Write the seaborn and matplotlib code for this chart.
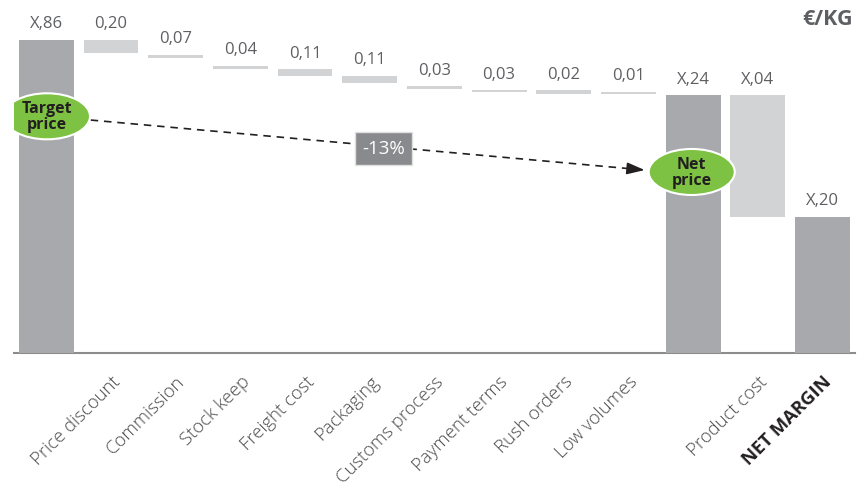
import matplotlib
matplotlib.use("Agg")
import matplotlib.pyplot as plt
import seaborn as sns
import pandas as pd
from matplotlib.patches import Ellipse

# ---- data (schematic scale, €/kg) ----
categories = ["Target price", "Price discount", "Commission", "Stock keep", "Freight cost",
              "Packaging", "Customs process", "Payment terms", "Rush orders", "Low volumes",
              "Net price", "Product cost", "NET MARGIN"]
tick_labels = ["", "Price discount", "Commission", "Stock keep", "Freight cost",
               "Packaging", "Customs process", "Payment terms", "Rush orders", "Low volumes",
               "", "Product cost", "NET MARGIN"]
bar_top = [3.86, 3.86, 3.68, 3.54, 3.50, 3.42, 3.29, 3.24, 3.24, 3.22, 3.18, 3.18, 1.68]
bar_bottom = [0.00, 3.70, 3.64, 3.50, 3.42, 3.33, 3.26, 3.22, 3.20, 3.19, 0.00, 1.68, 0.00]
value_labels = ["X,86", "0,20", "0,07", "0,04", "0,11", "0,11", "0,03", "0,03", "0,02", "0,01",
                "X,24", "X,04", "X,20"]
bar_kind = ["total", "step", "step", "step", "step", "step", "step", "step", "step", "step",
            "total", "step", "total"]
change_label = "-13%"
unit_label = "€/KG"

DARK = "#A7A9AC"
LIGHT = "#D1D3D4"
TXT = "#5E5F62"

sns.set_theme(style="white")
plt.rcParams["font.family"] = ["Open Sans", "DejaVu Sans"]

df = pd.DataFrame({"category": categories,
                   "height": [t - b for t, b in zip(bar_top, bar_bottom)],
                   "bottom": bar_bottom})

fig = plt.figure(figsize=(8.58, 4.86), dpi=100)
ax = fig.add_axes([14 / 858, (486 - 353.3) / 486, (854.7 - 14) / 858, 353.3 / 486])

sns.barplot(data=df, x="category", y="height", order=categories, color=DARK,
            width=0.85, bottom=df["bottom"].values, ax=ax, saturation=1,
            linewidth=0, errorbar=None)
for patch, kind in zip(ax.patches, bar_kind):
    patch.set_facecolor(DARK if kind == "total" else LIGHT)
    patch.set_edgecolor("none")

ax.set_xlim(-0.5, len(categories) - 0.5)
ax.set_ylim(0, 4.353)
ax.set_xlabel("")
ax.set_ylabel("")
ax.set_yticks([])

for s in ["top", "right", "left"]:
    ax.spines[s].set_visible(False)
ax.spines["bottom"].set_color("#8C8C8C")
ax.spines["bottom"].set_linewidth(1.5)
ax.spines["bottom"].set_zorder(0.5)

# value labels
for i, (t, lab) in enumerate(zip(bar_top, value_labels)):
    ax.annotate(lab, xy=(i, t), xytext=(0, 8.3), textcoords="offset points",
                ha="center", va="baseline", fontsize=12, color=TXT)

# x ticks: labels at centers, tick marks at boundaries
ax.set_xticks(range(len(categories)))
ax.set_xticklabels(tick_labels, rotation=45, ha="right", rotation_mode="anchor",
                   fontsize=13.3, color="#4A4B4D", fontweight="light")
ax.set_xticks([i - 0.5 for i in range(len(categories) + 1)], minor=True)
ax.tick_params(axis="x", which="major", length=0, pad=14)
ax.tick_params(axis="x", which="minor", length=5, width=1.2, color="#6D6E71", direction="out")
for tl in ax.get_xticklabels():
    if tl.get_text() == "NET MARGIN":
        tl.set_fontweight("bold")
        tl.set_color("#231F20")

# ellipses
for (cx, cy, txt) in [(0.01, 2.92, "Target\nprice"), (9.98, 2.234, "Net\nprice")]:
    e = Ellipse((cx, cy), width=1.33, height=0.567, facecolor="#7DC242",
                edgecolor="white", linewidth=1.5, zorder=5)
    ax.add_patch(e)
    ax.text(cx, cy - 0.01, txt, ha="center", va="center", fontsize=11.5, fontweight="bold",
            color="#231F20", zorder=6, linespacing=1.0)

# dashed arrow
x0, y0, x1, y1 = 0.686, 2.874, 9.253, 2.258
ax.plot([x0, x1 - 0.15], [y0, y0 + (y1 - y0) * (x1 - 0.15 - x0) / (x1 - x0)],
        color="#231F20", linewidth=1.2, linestyle=(0, (4.5, 3.5)), zorder=4)
ax.annotate("", xy=(x1, y1), xytext=(x1 - 0.2, y0 + (y1 - y0) * (x1 - 0.2 - x0) / (x1 - x0)),
            arrowprops=dict(arrowstyle="-|>,head_length=0.9,head_width=0.3",
                            color="#231F20", lw=1.2, shrinkA=0, shrinkB=0), zorder=4)

# -13% box
ax.text(5.22, 2.523, change_label, ha="center", va="center", fontsize=13.5, color="white",
        zorder=6, bbox=dict(boxstyle="square,pad=0.38", facecolor="#898A8D",
                            edgecolor="#E0E0E0", linewidth=1))

fig.text(853 / 858, 1 - 25 / 486, unit_label, ha="right", va="baseline", fontsize=15.5,
         fontweight="bold", color=TXT)

fig.savefig("out.png", dpi=100)
